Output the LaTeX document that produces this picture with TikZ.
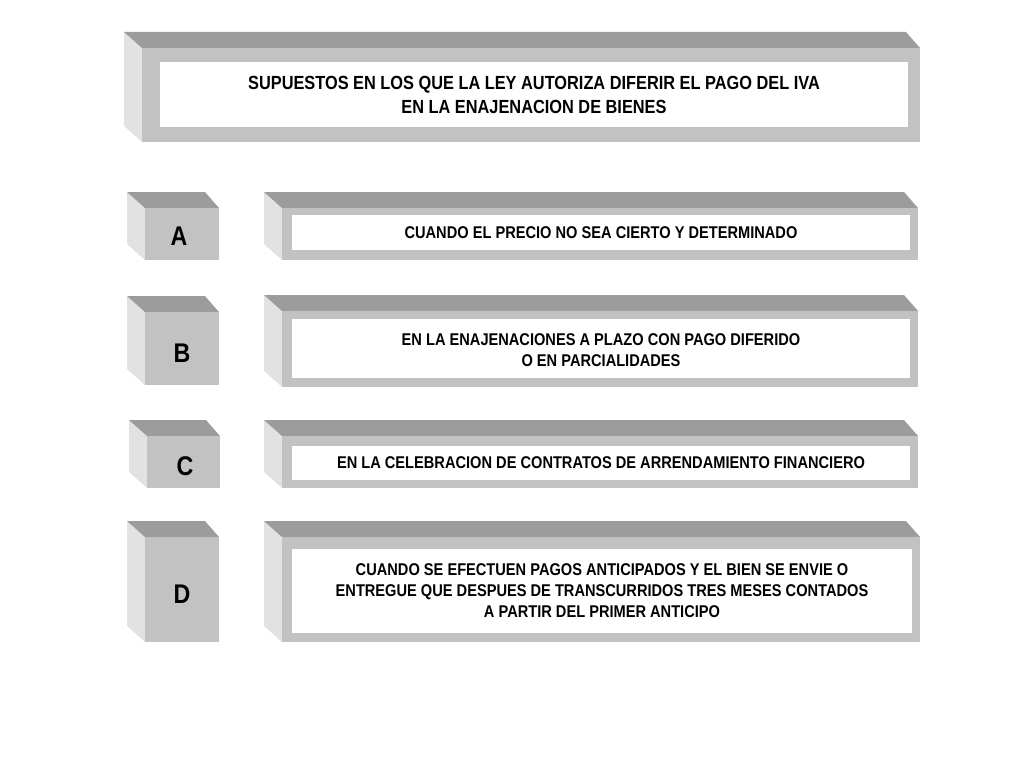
\documentclass[tikz,border=0pt]{standalone}
\usepackage{fontspec}
\setmainfont{Liberation Sans}
\newfontfamily\condfont[FakeStretch=0.86]{Liberation Sans}
\definecolor{topgray}{HTML}{9C9C9C}
\definecolor{frontgray}{HTML}{C2C2C2}
\definecolor{sidegray}{HTML}{E2E2E2}
% slab: front face corners x0,y0,x1,y1
\newcommand{\slab}[4]{%
  \fill[sidegray] (#1-18,#2-16) -- (#1,#2) -- (#1,#4) -- (#1-18,#4-16) -- cycle;
  \fill[topgray] (#1-18,#2-16) -- (#3-14,#2-16) -- (#3,#2) -- (#1,#2) -- cycle;
  \fill[frontgray] (#1,#2) rectangle (#3,#4);
}
\tikzset{
  inner/.style={fill=white},
  caption/.style={font=\condfont\bfseries\fontsize{17}{21}\selectfont, align=center},
  letter/.style={font=\condfont\bfseries\fontsize{27}{30}\selectfont}
}
\begin{document}
\begin{tikzpicture}[x=1pt,y=-1pt]
 \useasboundingbox (0,0) rectangle (1024,768);
 % heading
 \slab{142}{48}{920}{142}
 \fill[inner] (160,62) rectangle (908,127);
 \node[caption, font=\condfont\bfseries\fontsize{19}{24}\selectfont] (title) at (534,95)
   {SUPUESTOS EN LOS QUE LA LEY AUTORIZA DIFERIR EL PAGO DEL IVA\\EN LA ENAJENACION DE BIENES};
 %
 \slab{145}{208}{219}{260}
 \node[letter] (la) at (179,236) {A};
 \slab{282}{208}{918}{260}
 \fill[inner] (292,215) rectangle (910,250);
 \node[caption] (ta) at (601,233) {CUANDO EL PRECIO NO SEA CIERTO Y DETERMINADO};
 %
 \slab{145}{312}{219}{385}
 \node[letter] (lb) at (182,353) {B};
 \slab{282}{311}{918}{387}
 \fill[inner] (292,319) rectangle (910,378);
 \node[caption] (tb) at (601,350) {EN LA ENAJENACIONES A PLAZO CON PAGO DIFERIDO\\O EN PARCIALIDADES};
 %
 \slab{147}{436}{220}{488}
 \node[letter] (lc) at (185,466) {C};
 \slab{282}{436}{918}{488}
 \fill[inner] (292,446) rectangle (910,480);
 \node[caption] (tc) at (601,463) {EN LA CELEBRACION DE CONTRATOS DE ARRENDAMIENTO FINANCIERO};
 %
 \slab{145}{537}{219}{642}
 \node[letter] (ld) at (182,594) {D};
 \slab{282}{537}{920}{642}
 \fill[inner] (292,549) rectangle (912,633);
 \node[caption] (td) at (602,591) {CUANDO SE EFECTUEN PAGOS ANTICIPADOS Y EL BIEN SE ENVIE O\\ENTREGUE QUE DESPUES DE TRANSCURRIDOS TRES MESES CONTADOS\\A PARTIR DEL PRIMER ANTICIPO};
\end{tikzpicture}
\end{document}
